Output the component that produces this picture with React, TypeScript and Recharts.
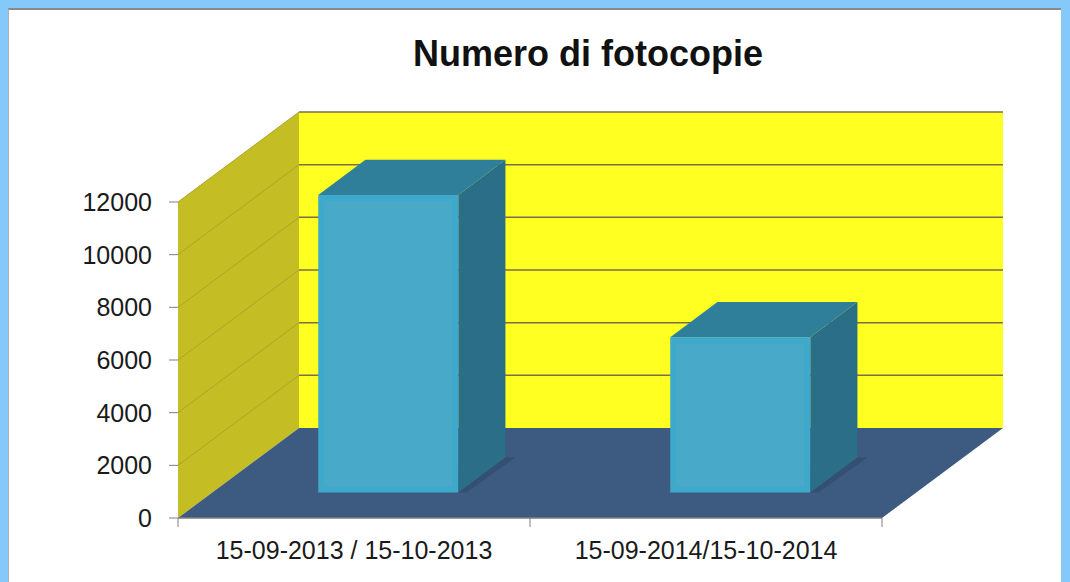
import React from 'react';
import { BarChart, Bar, XAxis, YAxis, ReferenceArea, ReferenceLine } from 'recharts';

const title = 'Numero di fotocopie';
const categories = ['15-09-2013 / 15-10-2013', '15-09-2014/15-10-2014'];
const copies = [11300, 5900];
const yTicks = [0, 2000, 4000, 6000, 8000, 10000, 12000];
const yMax = 12000;

const data = categories.map((c, i) => ({ period: c, copies: copies[i] }));

const FONT = '"Liberation Sans", Arial, Helvetica, sans-serif';
const DX = 121;
const DY = -90;
const BAR_OFF = 0.283;
const BAR_DEPTH = 0.39;

const WallsShape = (p: any) => {
  const { x, y, width, height } = p;
  const b = y + height;
  return (
    <g>
      <rect x={x + DX} y={y + DY} width={width} height={height} fill="#FFFF22" />
      <polygon
        points={`${x},${b} ${x},${y} ${x + DX},${y + DY} ${x + DX},${b + DY}`}
        fill="#C4BD24"
      />
      <polygon
        points={`${x},${b} ${x + width},${b} ${x + width + DX},${b + DY} ${x + DX},${b + DY}`}
        fill="#3D5A80"
      />
    </g>
  );
};

const GridShape = (p: any) => {
  const { x1, y1, x2, y2 } = p;
  return (
    <g>
      <line x1={x1} y1={y1} x2={x1 + DX} y2={y1 + DY} stroke="#ADA52A" strokeWidth={1} />
      <line x1={x1 + DX} y1={y1 + DY} x2={x2 + DX} y2={y2 + DY} stroke="#7A6E4C" strokeWidth={1.5} />
    </g>
  );
};

const Bar3D = (p: any) => {
  const { x, y, width, height } = p;
  const ox = DX * BAR_OFF;
  const oy = DY * BAR_OFF;
  const bx = DX * BAR_DEPTH;
  const by = DY * BAR_DEPTH;
  const fx = x + ox;
  const ft = y + oy;
  const fb = y + height + oy;
  const fr = fx + width;
  return (
    <g>
      <polygon
        points={`${fx},${fb} ${fr + 8},${fb} ${fr + bx + 10},${fb + by} ${fr + bx},${fb + by}`}
        fill="#354F72"
      />
      <polygon points={`${fr},${ft} ${fr + bx},${ft + by} ${fr + bx},${fb + by} ${fr},${fb}`} fill="#2A6E88" />
      <polygon points={`${fx},${ft} ${fx + bx},${ft + by} ${fr + bx},${ft + by} ${fr},${ft}`} fill="#2F7F9B" />
      <rect x={fx} y={ft} width={width} height={fb - ft} fill="#3FA9CC" />
      <rect x={fx + 6} y={ft + 6} width={width - 12} height={fb - ft - 12} fill="#48AAC8" />
    </g>
  );
};

const CatTick = (p: any) => {
  const { x, y, payload, index, width, visibleTicksCount } = p;
  const half = width / visibleTicksCount / 2;
  return (
    <g>
      <line x1={x - half} y1={y} x2={x - half} y2={y + 9} stroke="#7f7f7f" />
      {index === visibleTicksCount - 1 && (
        <line x1={x + half} y1={y} x2={x + half} y2={y + 9} stroke="#7f7f7f" />
      )}
      <text x={x} y={y + 41} textAnchor="middle" fontSize={25} fontFamily={FONT} fill="#1a1a1a">
        {payload.value}
      </text>
    </g>
  );
};

export default function App() {
  return (
    <div
      style={{
        position: 'absolute',
        left: 0,
        top: 0,
        width: 1070,
        height: 582,
        background: '#84C9FA',
        overflow: 'hidden',
      }}
    >
      <div
        style={{
          position: 'absolute',
          left: 8,
          top: 8,
          width: 1052,
          height: 580,
          background: '#ffffff',
          borderTop: '2px solid #8a8a8a',
          borderLeft: '1px solid #b0b0b0',
        }}
      />
      <div
        style={{
          position: 'absolute',
          left: 288,
          top: 36,
          width: 600,
          textAlign: 'center',
          fontFamily: FONT,
          fontWeight: 'bold',
          fontSize: 36,
          lineHeight: '36px',
          color: '#111',
        }}
      >
        {title}
      </div>
      <div style={{ position: 'absolute', left: 0, top: 0 }}>
        <BarChart
          width={1070}
          height={582}
          data={data}
          margin={{ top: 202, right: 188, bottom: 0, left: 0 }}
        >
          <XAxis
            dataKey="period"
            height={64}
            tickLine={false}
            tickSize={0}
            tickMargin={0}
            axisLine={{ stroke: '#7f7f7f', strokeWidth: 1.5 }}
            tick={<CatTick />}
            interval={0}
          />
          <YAxis
            width={178}
            domain={[0, yMax]}
            ticks={yTicks}
            interval={0}
            axisLine={false}
            tickLine={{ stroke: '#7f7f7f' }}
            tickSize={9}
            tickMargin={17}
            tick={{ fontSize: 25, fontFamily: FONT, fill: '#1a1a1a' }}
          />
          <ReferenceArea y1={0} y2={yMax} ifOverflow="visible" shape={<WallsShape />} zIndex={-60} />
          {yTicks
            .filter((v) => v > 0)
            .map((v) => (
              <ReferenceLine key={v} y={v} ifOverflow="visible" shape={<GridShape />} zIndex={-55} />
            ))}
          <Bar dataKey="copies" barSize={140} shape={<Bar3D />} isAnimationActive={false} />
        </BarChart>
      </div>
    </div>
  );
}
